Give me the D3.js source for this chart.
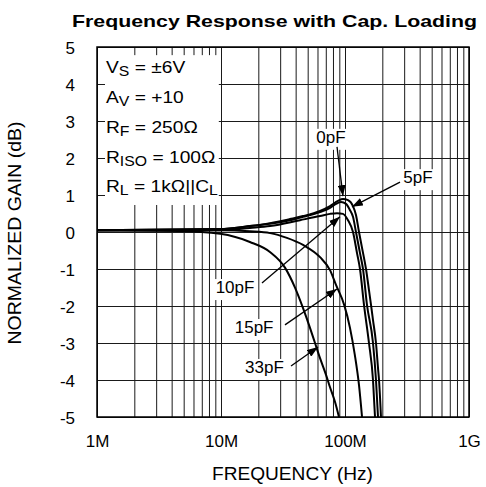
<!DOCTYPE html>
<html>
<head>
<meta charset="utf-8">
<script src="https://cdn.jsdelivr.net/npm/d3@7"></script>
<style>
body { margin: 0; background: #fff; }
text { font-family: Arial, "Liberation Sans", sans-serif; fill: #000; }
</style>
</head>
<body>
<script>

// ---- data (frequency in MHz, gain in dB) ----
var capLabels = ["0pF", "5pF", "10pF", "15pF", "33pF"];

var freq0pF = [1, 9.81, 17.1, 24.9, 36.0, 45.9, 62.9, 75.7, 87.8, 96.3, 105.7, 116.0, 122.6, 129.7, 137.2, 147.7, 156.1, 162.1, 168.2, 177.8, 184.6, 188.1, 195.1];
var gain0pF = [0.05, 0.08, 0.16, 0.24, 0.35, 0.43, 0.57, 0.70, 0.84, 0.89, 0.86, 0.70, 0.46, 0, -0.43, -1.0, -1.57, -1.97, -2.38, -3.0, -3.68, -4.0, -5];

var freq5pF = [1, 9.81, 17.1, 24.9, 36.0, 45.9, 62.9, 75.7, 84.6, 92.8, 101.9, 109.7, 116.0, 122.6, 132.1, 139.7, 150.4, 168.2, 177.8, 184.6];
var gain5pF = [0.05, 0.08, 0.16, 0.22, 0.32, 0.41, 0.54, 0.65, 0.76, 0.81, 0.76, 0.59, 0.41, 0, -0.57, -1.0, -1.97, -3.0, -4.0, -5];

var freq10pF = [1, 9.81, 17.1, 24.9, 43.4, 62.9, 75.7, 86.2, 96.3, 105.7, 116.0, 125.0, 132.1, 142.3, 156.1, 168.2, 174.6];
var gain10pF = [0.05, 0.05, 0.11, 0.16, 0.32, 0.43, 0.49, 0.51, 0.49, 0.32, 0, -0.57, -1.0, -1.97, -3.0, -4.0, -5];

var freq15pF = [1, 9.81, 17.1, 24.9, 34.0, 45.9, 62.9, 75.7, 84.6, 98.5, 109.7, 120.0, 129.7, 137.2];
var gain15pF = [0.05, 0.05, 0.02, -0.03, -0.16, -0.35, -0.68, -1.03, -1.43, -1.97, -2.59, -3.32, -4.14, -5];

var freq33pF = [1, 4.67, 9.85, 17.1, 24.8, 32.9, 39.6, 45.8, 52.2, 57.3, 62.9, 70.3, 75.6, 83.0, 89.4];
var gain33pF = [0.05, 0.03, -0.05, -0.27, -0.54, -0.97, -1.51, -2.05, -2.59, -3.0, -3.41, -3.86, -4.19, -4.59, -5];

// axis ticks
var freqTicks = [1, 10, 100, 1000];
var freqTickLabels = ["1M", "10M", "100M", "1G"];
var gainTicks = [5, 4, 3, 2, 1, 0, -1, -2, -3, -4, -5];

// annotations (data units: MHz, dB)
var labelAt = [[77.1, 2.41], [388, 1.32], [12.97, -1.65], [18.5, -2.73], [22.4, -3.81]];
var arrowFrom = [[86.2, 2.30], [277.7, 1.35], [21.4, -1.38], [32.8, -2.51], [36.7, -3.62]];
var arrowTo = [[96.3, 0.97], [113.8, 0.68], [91.1, 0.41], [86.2, -1.54], [60.6, -3.11]];

// conditions box text: [text, subscript?]
var condLines = [
	[["V", 0], ["S", 1], [" = \u00b16V", 0]],
	[["A", 0], ["V", 1], [" = +10", 0]],
	[["R", 0], ["F", 1], [" = 250\u03a9", 0]],
	[["R", 0], ["ISO", 1], [" = 100\u03a9", 0]],
	[["R", 0], ["L", 1], [" = 1k\u03a9||C", 0], ["L", 1]]
];
var condBox = {f0: 1.16, f1: 9.6, g0: 0.73, g1: 4.78};

var series = [
	{name: capLabels[0], f: freq0pF, g: gain0pF},
	{name: capLabels[1], f: freq5pF, g: gain5pF},
	{name: capLabels[2], f: freq10pF, g: gain10pF},
	{name: capLabels[3], f: freq15pF, g: gain15pF},
	{name: capLabels[4], f: freq33pF, g: gain33pF}
];

// ---- layout ----
var margin = {top: 47, right: 17, bottom: 70, left: 97};
var width = 486 - margin.left - margin.right,
	height = 487 - margin.top - margin.bottom;

var svgRoot = d3.select("body").append("svg")
	.attr("width", 486)
	.attr("height", 487);

svgRoot.append("defs").append("marker")
	.attr("id", "arrow")
	.attr("markerUnits", "userSpaceOnUse")
	.attr("viewBox", "0 0 11 8")
	.attr("refX", 11)
	.attr("refY", 4)
	.attr("markerWidth", 11)
	.attr("markerHeight", 8)
	.attr("orient", "auto")
	.append("path")
	.attr("d", "M0,0L11,4L0,8Z")
	.attr("fill", "#000");

svgRoot.select("defs").append("clipPath")
	.attr("id", "plotclip")
	.append("rect")
	.attr("width", width)
	.attr("height", height);

var svg = svgRoot.append("g")
	.attr("transform", "translate(" + margin.left + "," + margin.top + ")");

var x = d3.scaleLog().domain([1, 1000]).range([0, width]);
var y = d3.scaleLinear().domain([-5, 5]).range([height, 0]);

// grid
svg.append("g")
	.attr("class", "grid")
	.attr("transform", "translate(0," + height + ")")
	.call(d3.axisBottom(x).tickValues(x.ticks()).tickSize(-height).tickFormat(""));
svg.append("g")
	.attr("class", "grid")
	.call(d3.axisLeft(y).tickValues(gainTicks).tickSize(-width).tickFormat(""));
svg.selectAll(".grid .domain").remove();
svg.selectAll(".grid line").attr("stroke", "#1a1a1a").attr("stroke-width", 1);

// plot border
svg.append("rect")
	.attr("width", width)
	.attr("height", height)
	.attr("fill", "none")
	.attr("stroke", "#000")
	.attr("stroke-width", 1.5);

// curves
var line = d3.line()
	.x(function(d) { return x(d[0]); })
	.y(function(d) { return y(d[1]); })
	.curve(d3.curveMonotoneX);

svg.append("g")
	.attr("clip-path", "url(#plotclip)")
	.selectAll("path")
	.data(series)
	.enter()
	.append("path")
	.attr("d", function(s) { return line(s.f.map(function(f, i) { return [f, s.g[i]]; })); })
	.attr("fill", "none")
	.attr("stroke", "#000")
	.attr("stroke-width", 2);

// conditions box
var bx = x(condBox.f0), by = y(condBox.g1);
svg.append("rect")
	.attr("x", bx)
	.attr("y", by)
	.attr("width", x(condBox.f1) - bx)
	.attr("height", y(condBox.g0) - by)
	.attr("fill", "#fff");

var cond = svg.append("g")
	.attr("transform", "translate(" + (bx + 1) + "," + by + ") scale(1.13,1)");

condLines.forEach(function(parts, i) {
	var t = cond.append("text")
		.attr("x", 0)
		.attr("y", 18 + i * 29.8)
		.attr("font-size", 17);
	var shifted = false;
	parts.forEach(function(p) {
		var ts = t.append("tspan").text(p[0]);
		if (p[1]) {
			ts.attr("font-size", 14).attr("dy", shifted ? 0 : 3);
			shifted = true;
		} else {
			ts.attr("dy", shifted ? -3 : 0);
			shifted = false;
		}
	});
});

// annotations
var ann = svg.append("g");
series.forEach(function(s, i) {
	var lt = ann.append("text")
		.attr("x", x(labelAt[i][0]))
		.attr("y", y(labelAt[i][1]))
		.attr("text-anchor", "middle")
		.attr("font-family", "Lato, 'Open Sans', sans-serif")
		.attr("font-size", 17)
		.text(s.name);
	var bb = lt.node().getBBox();
	ann.insert("rect", "text")
		.attr("x", bb.x - 2)
		.attr("y", bb.y + 1)
		.attr("width", bb.width + 4)
		.attr("height", bb.height + 2)
		.attr("fill", "#fff");
	ann.append("line")
		.attr("x1", x(arrowFrom[i][0]))
		.attr("y1", y(arrowFrom[i][1]))
		.attr("x2", x(arrowTo[i][0]))
		.attr("y2", y(arrowTo[i][1]))
		.attr("stroke", "#000")
		.attr("stroke-width", 1.3)
		.attr("marker-end", "url(#arrow)");
});

// axes labels
var xAxis = svg.append("g")
	.attr("transform", "translate(0," + height + ")")
	.call(d3.axisBottom(x).tickValues(freqTicks).tickSize(0).tickPadding(18)
		.tickFormat(function(d, i) { return freqTickLabels[i]; }));
var yAxis = svg.append("g")
	.call(d3.axisLeft(y).tickValues(gainTicks).tickSize(0).tickPadding(22)
		.tickFormat(function(d) { return d; }));
svg.selectAll(".domain").remove();
xAxis.selectAll("text").attr("font-size", 17).attr("font-family", null);
yAxis.selectAll("text").attr("font-size", 17).attr("font-family", null).attr("dy", "0.38em");

// titles
svgRoot.append("text")
	.attr("x", 274.5)
	.attr("y", 27)
	.attr("text-anchor", "middle")
	.attr("font-size", 17)
	.attr("font-weight", "bold")
	.attr("textLength", 405)
	.attr("lengthAdjust", "spacingAndGlyphs")
	.text("Frequency Response with Cap. Loading");

svgRoot.append("text")
	.attr("x", 292.5)
	.attr("y", 480)
	.attr("text-anchor", "middle")
	.attr("font-size", 18)
	.attr("textLength", 161)
	.attr("lengthAdjust", "spacingAndGlyphs")
	.text("FREQUENCY (Hz)");

svgRoot.append("text")
	.attr("transform", "translate(21,233) rotate(-90)")
	.attr("text-anchor", "middle")
	.attr("font-size", 18)
	.attr("textLength", 223)
	.attr("lengthAdjust", "spacingAndGlyphs")
	.text("NORMALIZED GAIN (dB)");

</script>
</body>
</html>
